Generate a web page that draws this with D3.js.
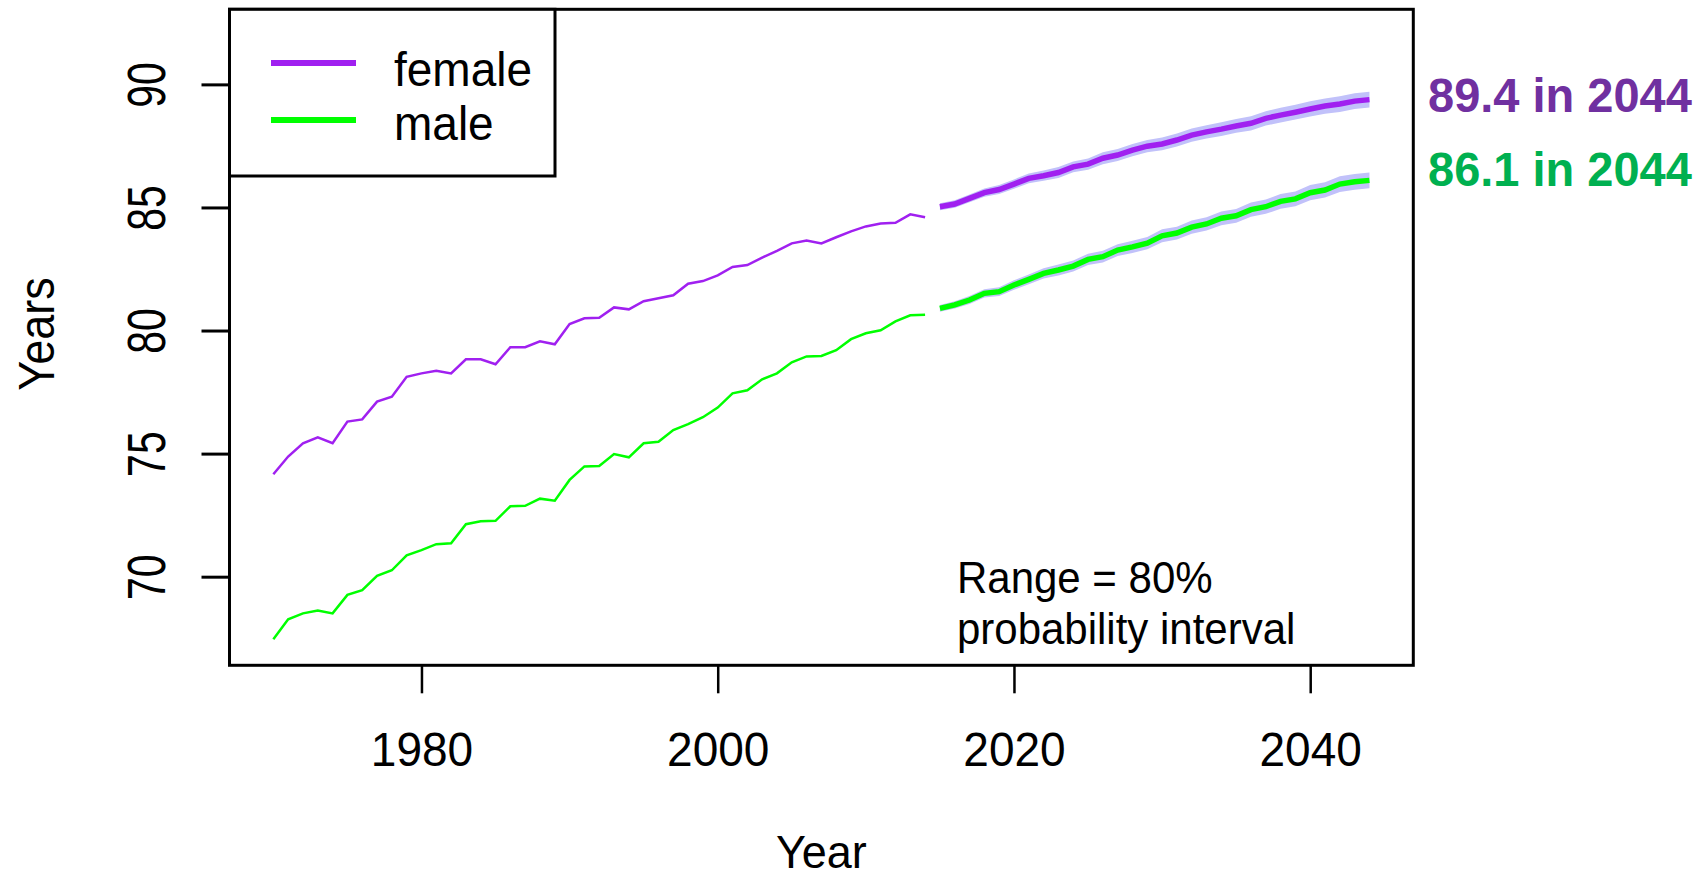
<!DOCTYPE html>
<html>
<head>
<meta charset="utf-8">
<script src="https://cdn.jsdelivr.net/npm/d3@7"></script>
<style>
  body { margin: 0; background: #fff; }
  svg { display: block; font-family: "Liberation Sans", Arial, sans-serif; }
</style>
</head>
<body>
<div id="chart"></div>
<script>
// observed life expectancy, 1970-2014
const HIST_YEARS = d3.range(1970, 2015);
const FEMALE_HIST = [
  74.16, 74.88, 75.42, 75.66, 75.42, 76.30, 76.39, 77.11, 77.31, 78.12,
  78.26, 78.37, 78.26, 78.83, 78.83, 78.63, 79.32, 79.32, 79.56, 79.44,
  80.26, 80.50, 80.52, 80.94, 80.86, 81.19, 81.31, 81.43, 81.90, 82.01,
  82.24, 82.58, 82.66, 82.96, 83.24, 83.54, 83.66, 83.54, 83.79, 84.03,
  84.23, 84.35, 84.38, 84.72, 84.60
];
const MALE_HIST = [
  67.46, 68.27, 68.51, 68.63, 68.51, 69.26, 69.45, 70.03, 70.26, 70.87,
  71.08, 71.32, 71.36, 72.13, 72.25, 72.27, 72.86, 72.88, 73.17, 73.09,
  73.93, 74.48, 74.50, 74.98, 74.85, 75.42, 75.48, 75.96, 76.20, 76.48,
  76.87, 77.45, 77.57, 78.02, 78.26, 78.71, 78.95, 78.97, 79.20, 79.65,
  79.89, 80.01, 80.37, 80.62, 80.64
];

// projected median, 2015-2044
const PROJ_YEARS = d3.range(2015, 2045);
const FEMALE_PROJ = [
  85.03, 85.14, 85.37, 85.60, 85.73, 85.95, 86.18, 86.29, 86.42, 86.65,
  86.76, 87.00, 87.13, 87.33, 87.49, 87.58, 87.74, 87.94, 88.07, 88.18,
  88.31, 88.42, 88.62, 88.75, 88.87, 89.00, 89.12, 89.20, 89.32, 89.38
];
const MALE_PROJ = [
  80.90, 81.04, 81.24, 81.51, 81.58, 81.85, 82.08, 82.32, 82.46, 82.62,
  82.89, 83.00, 83.27, 83.40, 83.55, 83.85, 83.96, 84.20, 84.33, 84.56,
  84.66, 84.91, 85.03, 85.25, 85.35, 85.60, 85.71, 85.95, 86.04, 86.10
];
// half width of the 80% probability interval
const SPREAD_80 = [
  0.14, 0.15, 0.16, 0.17, 0.18, 0.19, 0.20, 0.21, 0.22, 0.22,
  0.23, 0.24, 0.24, 0.25, 0.25, 0.26, 0.26, 0.27, 0.27, 0.28,
  0.28, 0.29, 0.29, 0.30, 0.30, 0.31, 0.31, 0.32, 0.32, 0.32
];

const X_TICKS = [1980, 2000, 2020, 2040];
const Y_TICKS = [70, 75, 80, 85, 90];
const LEGEND_LABELS = ["female", "male"];
const END_LABELS = ["89.4 in 2044", "86.1 in 2044"];
const NOTE_LINES = ["Range = 80%", "probability interval"];

const WIDTH = 1706, HEIGHT = 881;
const PLOT = { left: 229.5, right: 1413.3, top: 9.3, bottom: 665.3 };
const COL_F = "#a020f0", COL_M = "#00ff00", COL_BAND = "#c1c1fa";

const svg = d3.select("#chart").append("svg")
  .attr("width", WIDTH).attr("height", HEIGHT);
svg.append("rect").attr("width", WIDTH).attr("height", HEIGHT).attr("fill", "#fff");

const x = d3.scaleLinear().domain([1967.04, 2046.96]).range([PLOT.left, PLOT.right]);
const y = d3.scaleLinear().domain([66.40, 93.05]).range([PLOT.bottom, PLOT.top]);

const hist = (vals) => HIST_YEARS.map((yr, i) => ({ year: yr, v: vals[i] }));
const proj = (vals) => PROJ_YEARS.map((yr, i) => ({ year: yr, v: vals[i], s: SPREAD_80[i] }));

const line = d3.line().x(d => x(d.year)).y(d => y(d.v));
const band = d3.area().x(d => x(d.year)).y0(d => y(d.v - d.s)).y1(d => y(d.v + d.s));

// intervals
[FEMALE_PROJ, MALE_PROJ].forEach(vals => {
  svg.append("path").datum(proj(vals)).attr("d", band).attr("fill", COL_BAND);
});

// projected medians
[[FEMALE_PROJ, COL_F], [MALE_PROJ, COL_M]].forEach(([vals, col]) => {
  svg.append("path").datum(proj(vals)).attr("d", line)
    .attr("fill", "none").attr("stroke", col).attr("stroke-width", 5.5);
});

// observed
[[FEMALE_HIST, COL_F], [MALE_HIST, COL_M]].forEach(([vals, col]) => {
  svg.append("path").datum(hist(vals)).attr("d", line)
    .attr("fill", "none").attr("stroke", col).attr("stroke-width", 2.5);
});

// axes
const gx = svg.append("g")
  .attr("transform", `translate(0,${PLOT.bottom})`)
  .call(d3.axisBottom(x).tickValues(X_TICKS).tickSize(28).tickFormat(d3.format("d")));
gx.select(".domain").remove();
gx.selectAll(".tick line").attr("stroke-width", 2.5);
gx.selectAll(".tick text")
  .attr("y", 0).attr("dy", null)
  .attr("font-size", 46).attr("font-family", "Liberation Sans, Arial, sans-serif")
  .attr("transform", "translate(0,100.7) scale(1,1.06)");

const gy = svg.append("g")
  .attr("transform", `translate(${PLOT.left},0)`)
  .call(d3.axisLeft(y).tickValues(Y_TICKS).tickSize(28));
gy.select(".domain").remove();
gy.selectAll(".tick line").attr("stroke-width", 3);
gy.selectAll(".tick text")
  .attr("x", 0).attr("dy", null)
  .attr("text-anchor", "middle")
  .attr("font-size", 41).attr("font-family", "Liberation Sans, Arial, sans-serif")
  .attr("transform", "translate(-64.5,0) scale(1.33,1) rotate(-90)");

// axis titles
svg.append("text").text("Year")
  .attr("text-anchor", "middle").attr("font-size", 45)
  .attr("transform", `translate(${(PLOT.left + PLOT.right) / 2},868) scale(1,1.04)`);
svg.append("text").text("Years")
  .attr("text-anchor", "middle").attr("font-size", 45)
  .attr("transform", "translate(54,334) scale(1.12,1) rotate(-90)");

// plot frame
svg.append("rect")
  .attr("x", PLOT.left).attr("y", PLOT.top)
  .attr("width", PLOT.right - PLOT.left).attr("height", PLOT.bottom - PLOT.top)
  .attr("fill", "none").attr("stroke", "#000").attr("stroke-width", 3);

// legend
svg.append("rect")
  .attr("x", PLOT.left).attr("y", PLOT.top)
  .attr("width", 555 - PLOT.left).attr("height", 176 - PLOT.top)
  .attr("fill", "#fff").attr("stroke", "#000").attr("stroke-width", 3);
const legend = svg.append("g").selectAll("g")
  .data(LEGEND_LABELS.map((lab, i) => ({ lab, col: [COL_F, COL_M][i], ly: [63, 120][i], ty: [86, 140][i] })))
  .join("g");
legend.append("line")
  .attr("x1", 271).attr("x2", 356)
  .attr("y1", d => d.ly).attr("y2", d => d.ly)
  .attr("stroke", d => d.col).attr("stroke-width", 6);
legend.append("text")
  .attr("transform", d => `translate(394,${d.ty}) scale(1,1.05)`)
  .attr("font-size", 46).text(d => d.lab);

// end labels
svg.selectAll(".endlab")
  .data(END_LABELS.map((t, i) => ({ t, col: ["#7030a0", "#00b050"][i], by: [111.7, 186][i] })))
  .join("text").attr("class", "endlab")
  .attr("transform", d => `translate(1428,${d.by}) scale(1,1.04)`)
  .attr("font-size", 47).attr("font-weight", "bold")
  .attr("fill", d => d.col).text(d => d.t);

// note
svg.selectAll(".note")
  .data(NOTE_LINES)
  .join("text").attr("class", "note")
  .attr("transform", (d, i) => `translate(957,${[593, 644][i]}) scale(1,1.04)`)
  .attr("font-size", 42).text(d => d);
</script>
</body>
</html>
